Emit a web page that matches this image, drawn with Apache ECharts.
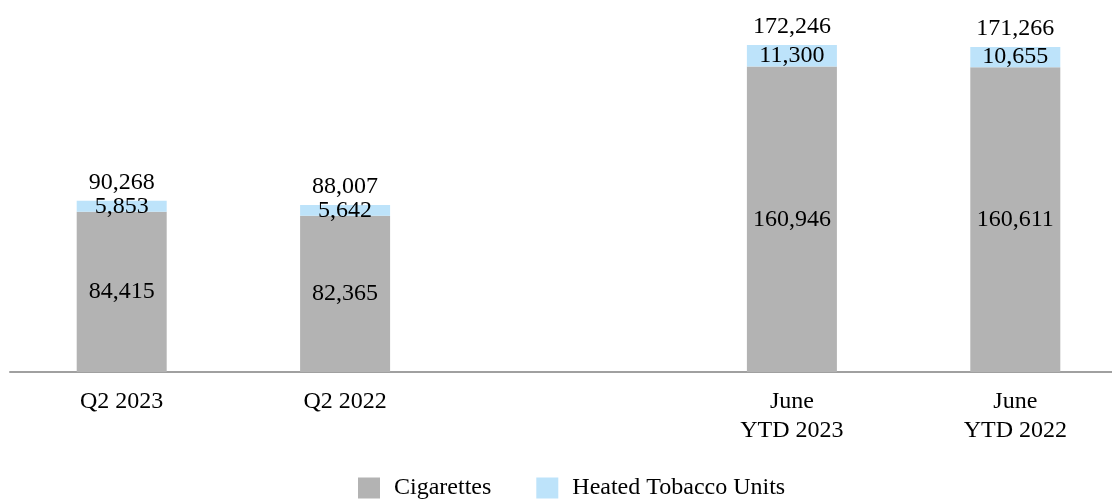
<!DOCTYPE html>
<html>
<head>
<meta charset="utf-8">
<script src="https://cdn.jsdelivr.net/npm/echarts@6/dist/echarts.min.js"></script>
<style>
  html, body { margin: 0; padding: 0; background: #fff; overflow: hidden; }
  /* chart a bit wider than the window so the last category runs off the right edge */
  #chart { width: 1130px; height: 501px; }
</style>
</head>
<body>
<div id="chart"></div>
<script>
// categories, the empty one makes the gap between quarter and YTD
var categories = ['Q2 2023', 'Q2 2022', '', 'June\nYTD 2023', 'June\nYTD 2022']
var cigarettes = [84415, 82365, null, 160946, 160611]
var heated = [5853, 5642, null, 11300, 10655]
var totals = [90268, 88007, null, 172246, 171266]

var font = 'Liberation Serif'
var chart = echarts.init(document.getElementById('chart'), null, { renderer: 'canvas' })

function fmt(v) {
  return v == null ? '' : v.toLocaleString('en-US')
}

chart.setOption({
  animation: false,
  textStyle: { fontFamily: font },
  grid: { left: 10, right: 3, top: 0, bottom: 129, containLabel: false },
  legend: {
    left: 353,
    top: 471,
    itemWidth: 22,
    itemHeight: 21,
    itemGap: 45,
    icon: 'rect',
    textStyle: { fontFamily: font, fontSize: 24, color: '#000', padding: [0, 0, 0, 9] },
    data: ['Cigarettes', 'Heated Tobacco Units']
  },
  xAxis: {
    type: 'category',
    data: categories,
    axisLine: { lineStyle: { color: '#a0a0a0', width: 2 } },
    axisTick: { show: false },
    axisLabel: { fontFamily: font, fontSize: 24, color: '#000', lineHeight: 29, margin: 15, interval: 0 }
  },
  yAxis: {
    type: 'value',
    min: 0,
    max: 196000,
    show: false,
    splitLine: { show: false }
  },
  series: [
    {
      name: 'Cigarettes',
      type: 'bar',
      stack: 'vol',
      barWidth: 90,
      data: cigarettes,
      itemStyle: { color: '#b3b3b3' },
      label: {
        show: true, position: 'inside', fontFamily: font, fontSize: 24, color: '#000',
        formatter: function (p) { return fmt(p.value) }
      }
    },
    {
      name: 'Heated Tobacco Units',
      type: 'bar',
      stack: 'vol',
      barWidth: 90,
      data: heated,
      itemStyle: { color: '#bde3fa' },
      label: {
        show: true, position: 'inside', fontFamily: font, fontSize: 24, color: '#000',
        formatter: function (p) { return fmt(p.value) }
      }
    },
    {
      // zero height bar that only carries the total on top
      name: 'Total',
      type: 'bar',
      stack: 'vol',
      barWidth: 90,
      data: totals.map(function (t) { return t == null ? null : 0 }),
      itemStyle: { color: 'transparent' },
      label: {
        show: true, position: 'top', distance: 6, fontFamily: font, fontSize: 24, color: '#000',
        formatter: function (p) { return fmt(totals[p.dataIndex]) }
      }
    }
  ]
})
</script>
</body>
</html>
